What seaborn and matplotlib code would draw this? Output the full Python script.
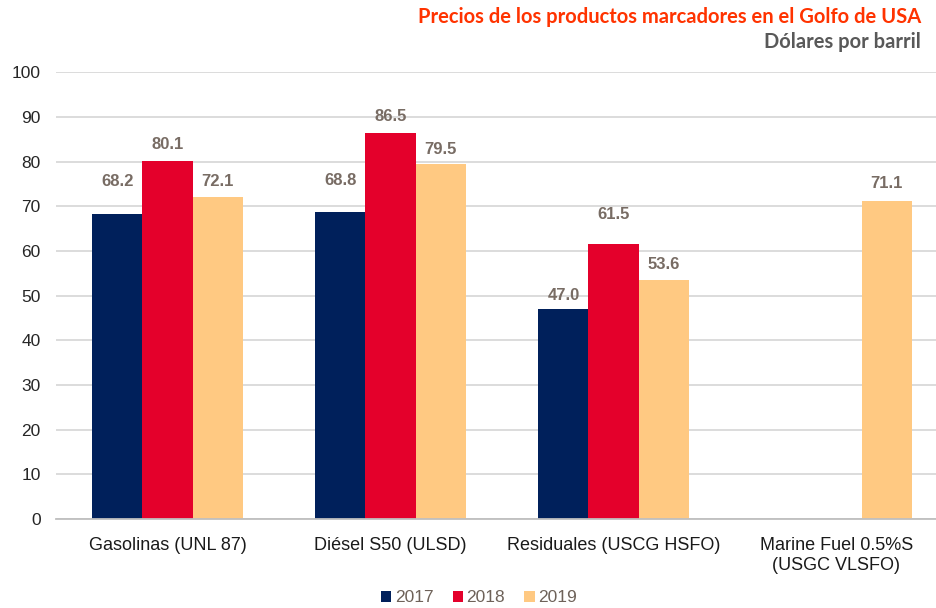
import matplotlib
matplotlib.use("Agg")
import matplotlib.pyplot as plt
import seaborn as sns
import pandas as pd
from matplotlib.ticker import FixedLocator

categories = ["Gasolinas (UNL 87)", "Diésel S50 (ULSD)", "Residuales (USCG HSFO)",
              "Marine Fuel 0.5%S\n(USGC VLSFO)"]
years = ["2017", "2018", "2019"]
values_2017 = [68.2, 68.8, 47.0, None]
values_2018 = [80.1, 86.5, 61.5, None]
values_2019 = [72.1, 79.5, 53.6, 71.1]
colors = ["#00205B", "#E4002B", "#FFC982"]
yticks = [0, 10, 20, 30, 40, 50, 60, 70, 80, 90, 100]
# label offsets above bar tops (pixels), per year container, as placed in the reference
label_gaps = [[33, 31, 14], [17, 16, 30], [16, 14, 15, 18]]

rows = []
for yr, vals in zip(years, [values_2017, values_2018, values_2019]):
    for c, v in zip(categories, vals):
        if v is not None:
            rows.append({"cat": c, "year": yr, "val": v})
df = pd.DataFrame(rows)

sns.set_theme(style="white")
plt.rcParams['font.family'] = ['Liberation Sans', 'DejaVu Sans']

fig = plt.figure(figsize=(9.36, 6.08), dpi=100)
ax = fig.add_axes([56/936, 89/608, 892/936, 446.6/608])

sns.barplot(data=df, x="cat", y="val", hue="year", order=categories, hue_order=years,
            palette=colors, width=0.673, saturation=1, ax=ax, legend=True, errorbar=None,
            linewidth=0, edgecolor="none")

ax.set_ylim(0, 100)
ax.set_xlim(-0.5, 3.5)
ax.set_yticks(yticks)
ax.set_yticklabels([str(t) for t in yticks], fontsize=12.5, color="#262626",
                   family=['Liberation Sans', 'DejaVu Sans'])
ax.tick_params(axis='y', length=0, pad=11)
ax.yaxis.grid(True, color="#D9D9D9", linewidth=1.3)
ax.set_axisbelow(True)
ax.set_xlabel("")
ax.set_ylabel("")
for lab in ax.get_xticklabels():
    lab.set_family(['Liberation Sans', 'DejaVu Sans'])
    lab.set_fontsize(13)
    lab.set_color("#1a1a1a")
ax.tick_params(axis='x', which='major', length=0, pad=13)
ax.xaxis.set_minor_locator(FixedLocator([-0.5, 0.5, 1.5, 2.5, 3.5]))
ax.tick_params(axis='x', which='minor', length=6, width=1, color="#BFBFBF", direction='out')
for s in ["top", "right", "left"]:
    ax.spines[s].set_visible(False)
ax.spines["bottom"].set_color("#BFBFBF")
ax.spines["bottom"].set_linewidth(1.3)

for cont, gaps in zip(ax.containers, label_gaps):
    for bar, g in zip(cont, gaps):
        h = bar.get_height()
        ax.annotate(f"{h:.1f}", (bar.get_x() + bar.get_width() / 2, h),
                    xytext=(0, g * 0.72), textcoords="offset points",
                    ha="center", va="center", fontsize=12, fontweight="bold",
                    color="#786C64", family=['Liberation Sans', 'DejaVu Sans'])

leg = ax.legend(loc="center", bbox_to_anchor=(479/936, 1 - 598/608), bbox_transform=fig.transFigure,
                ncol=3, frameon=False, prop={"family": "Liberation Sans", "size": 12.5},
                handlelength=0.6, handleheight=0.6, handletextpad=0.2, columnspacing=1.1)
for t in leg.get_texts():
    t.set_color("#6E6259")

fig.text(921/936, 1 - 17/608, "Precios de los productos marcadores en el Golfo de USA",
         ha="right", va="center", fontsize=14.5, fontweight="bold", color="#FF3300", family="Lato")
fig.text(921/936, 1 - 42/608, "Dólares por barril", ha="right", va="center",
         fontsize=14.5, fontweight="bold", color="#595959", family="Lato")

fig.savefig("out.png", dpi=100)
